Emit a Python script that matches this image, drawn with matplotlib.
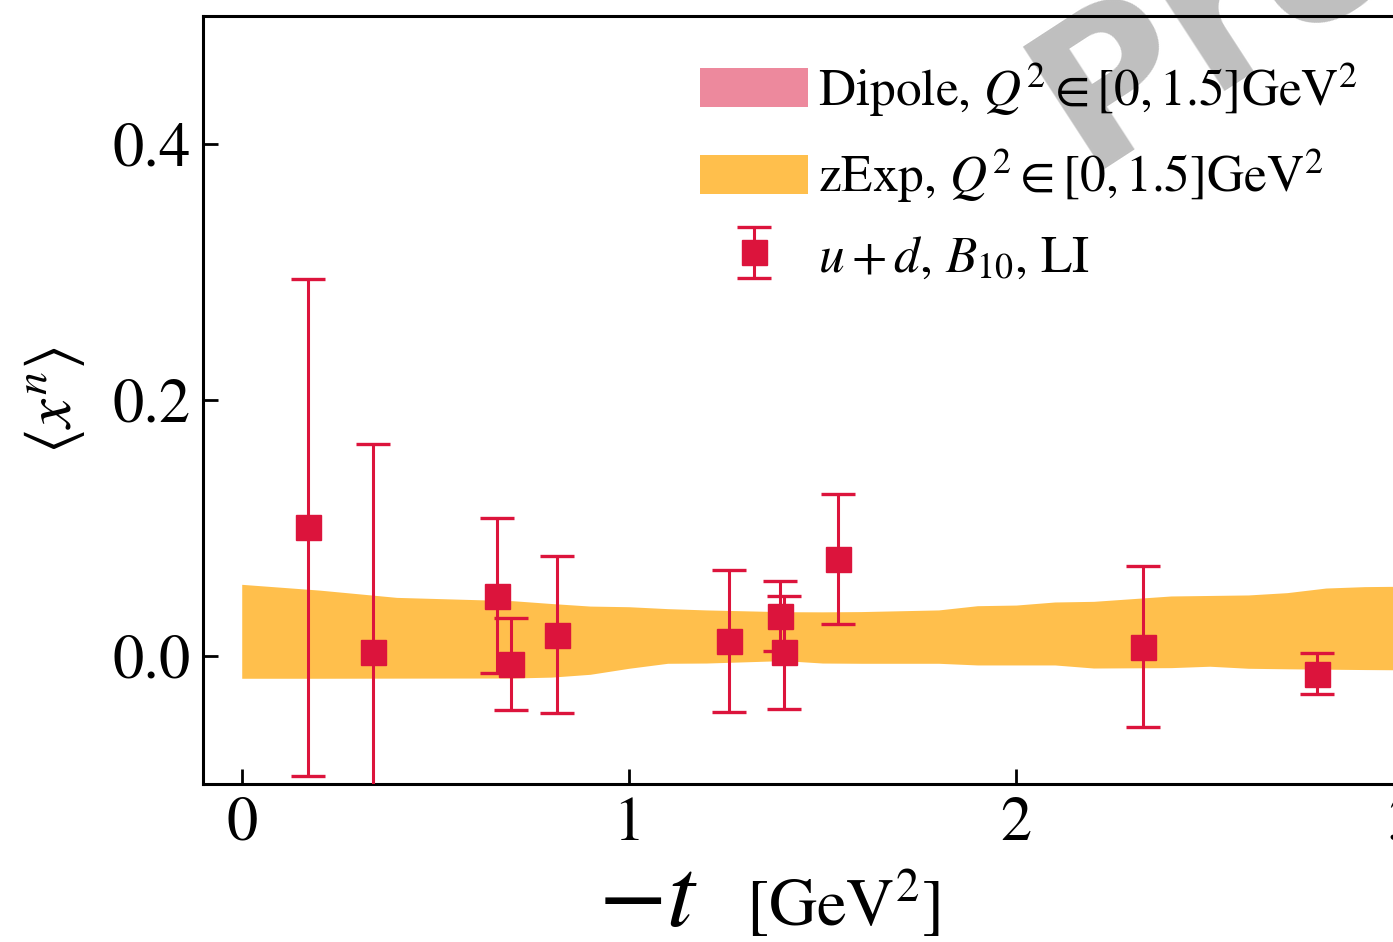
import matplotlib
matplotlib.use("Agg")
import matplotlib.pyplot as plt
from matplotlib.patches import Patch

plt.rcParams["font.family"] = ["STIXGeneral", "DejaVu Serif"]
plt.rcParams["mathtext.fontset"] = "stix"

# lattice points: -t [GeV^2], <x^n>, symmetric error
t_pts = [0.171, 0.339, 0.660, 0.696, 0.814, 1.259, 1.390, 1.400, 1.540, 2.328, 2.778]
x_pts = [0.1004, 0.0028, 0.0470, -0.0062, 0.0167, 0.0114, 0.0312, 0.0028, 0.0758, 0.0072, -0.0138]
x_err = [0.1940, 0.1630, 0.0605, 0.0356, 0.0612, 0.0554, 0.0271, 0.0442, 0.0505, 0.0629, 0.0159]

# zExp band
t_band = [0.0, 0.2, 0.4, 0.7, 0.8, 0.9, 1.0, 1.1, 1.2, 1.4, 1.5, 1.6, 1.8, 1.9,
          2.0, 2.1, 2.2, 2.4, 2.5, 2.6, 2.7, 2.8, 2.9, 3.0, 3.1]
band_hi = [0.0560, 0.0515, 0.0458, 0.0432, 0.0410, 0.0390, 0.0385, 0.0370, 0.0360,
           0.0346, 0.0345, 0.0347, 0.0360, 0.0393, 0.0398, 0.0422, 0.0427, 0.0469,
           0.0473, 0.0477, 0.0495, 0.0531, 0.0542, 0.0545, 0.0550]
band_lo = [-0.0174, -0.0174, -0.0173, -0.0172, -0.0165, -0.0143, -0.0096, -0.0057,
           -0.0055, -0.0036, -0.0055, -0.0057, -0.0057, -0.0070, -0.0070, -0.0070,
           -0.0094, -0.0091, -0.0080, -0.0096, -0.0100, -0.0103, -0.0106, -0.0108, -0.0110]

W, H = 1393, 942
fig = plt.figure(figsize=(W / 100, H / 100), dpi=100)
ax = fig.add_axes([203 / W, 1 - 784 / H, (1442 - 203) / W, (784 - 16) / H])

ax.fill_between(t_band, band_lo, band_hi, color="orange", alpha=0.7, lw=0, zorder=1)
eb = ax.errorbar(t_pts, x_pts, yerr=x_err, fmt="s", color="crimson", ms=18,
                 capsize=12, elinewidth=2.2, capthick=2.4, zorder=3)

ax.set_xlim(-0.1, 3.1)
ax.set_ylim(-0.1, 0.5)
ax.set_xticks([0, 1, 2, 3])
ax.set_yticks([0.0, 0.2, 0.4])
ax.set_yticklabels(["0.0", "0.2", "0.4"])
ax.tick_params(direction="in", length=11, width=2, labelsize=45, pad=9)
ax.spines["right"].set_visible(False)
for s in ["left", "bottom", "top"]:
    ax.spines[s].set_linewidth(2.2)

ax.set_ylabel(r"$\langle x^n \rangle$", fontsize=47, labelpad=18)
fig.text(648 / W, 1 - 926 / H, r"$-t$", fontsize=72, ha="center", va="baseline")
fig.text(843 / W, 1 - 926 / H, r"[GeV$^2$]", fontsize=48, ha="center", va="baseline")

# watermark
ax.text(1085 / W, 1 - 170 / H, "Preliminary", transform=fig.transFigure,
        fontsize=145, fontweight="bold", family="DejaVu Sans", color="gray",
        alpha=0.5, rotation=33, ha="left", va="baseline", rotation_mode="anchor",
        clip_on=False, zorder=0)

dip = Patch(facecolor="crimson", alpha=0.5, lw=0)
zexp = Patch(facecolor="orange", alpha=0.7, lw=0)
leg = ax.legend([dip, zexp, eb],
                [r"Dipole, $Q^2\in[0,1.5]$GeV$^2$", r"zExp, $Q^2\in[0,1.5]$GeV$^2$",
                 r"$u+d$, $B_{10}$, LI"],
                loc="upper left", bbox_to_anchor=(700 / W, 1 - 60 / H),
                bbox_transform=fig.transFigure, frameon=False, fontsize=37,
                handlelength=2.1, handleheight=0.8, handletextpad=0.2,
                labelspacing=0.55, borderpad=0, borderaxespad=0)
leg.set_zorder(5)

fig.savefig("out.png", dpi=100)
